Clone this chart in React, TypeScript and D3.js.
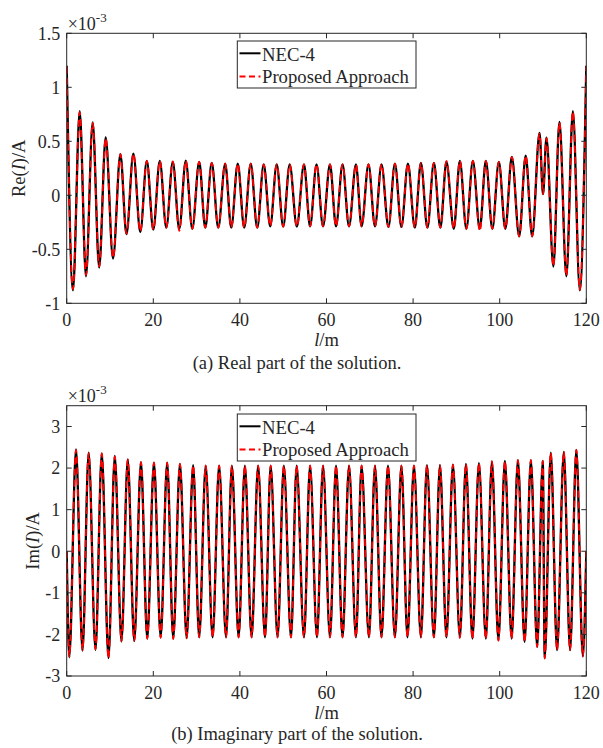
import * as d3 from "d3";

// current along the wire, units of 1e-3 A, extrema
const realPos = [
  0, 1.45, 3.0, 4.45, 6.0, 7.5, 9.0, 10.7, 12.4, 13.8,
  15.4, 17.0, 18.5, 20.0, 21.5, 23.0, 24.5, 26.0, 27.5, 29.0,
  30.6, 32.0, 33.5, 35.0, 36.6, 38.0, 39.5, 41.0, 42.5, 44.0,
  45.5, 47.0, 48.5, 50.0, 51.5, 53.15, 54.8, 56.2, 57.7, 59.2,
  60.8, 62.2, 63.7, 65.2, 66.8, 68.1, 69.7, 71.2, 72.7, 74.3,
  75.8, 77.3, 78.8, 80.4, 81.8, 83.3, 84.8, 86.3, 87.7, 89.4,
  90.8, 92.3, 93.8, 95.4, 96.8, 98.3, 99.8, 101.3, 102.8, 104.5,
  106.0, 107.5, 109.2, 110.0, 110.8, 112.4, 113.8, 115.4, 116.9, 118.5,
  120,
];
const realNec = [
  1.2, -0.88, 0.78, -0.75, 0.675, -0.67, 0.535, -0.585, 0.38, -0.36,
  0.385, -0.34, 0.318, -0.318, 0.318, -0.3, 0.31, -0.31, 0.32, -0.31,
  0.31, -0.3, 0.3, -0.3, 0.293, -0.3, 0.293, -0.3, 0.293, -0.3,
  0.287, -0.287, 0.287, -0.29, 0.287, -0.29, 0.287, -0.287, 0.287, -0.287,
  0.287, -0.287, 0.287, -0.287, 0.287, -0.287, 0.287, -0.287, 0.287, -0.293,
  0.293, -0.293, 0.293, -0.3, 0.3, -0.3, 0.3, -0.3, 0.309, -0.31,
  0.318, -0.31, 0.318, -0.31, 0.318, -0.31, 0.31, -0.31, 0.355, -0.38,
  0.367, -0.38, 0.577, 0.01, 0.534, -0.66, 0.68, -0.75, 0.78, -0.88,
  1.2,
];
const realProp = [
  1.19, -0.87, 0.77, -0.74, 0.67, -0.66, 0.53, -0.58, 0.38, -0.355,
  0.385, -0.335, 0.318, -0.318, 0.318, -0.3, 0.315, -0.33, 0.32, -0.31,
  0.31, -0.3, 0.3, -0.3, 0.293, -0.3, 0.293, -0.3, 0.293, -0.3,
  0.287, -0.287, 0.287, -0.29, 0.287, -0.29, 0.287, -0.287, 0.287, -0.287,
  0.287, -0.287, 0.287, -0.287, 0.287, -0.287, 0.287, -0.287, 0.287, -0.293,
  0.293, -0.293, 0.293, -0.3, 0.3, -0.3, 0.3, -0.3, 0.318, -0.31,
  0.318, -0.31, 0.318, -0.33, 0.318, -0.31, 0.31, -0.31, 0.355, -0.38,
  0.367, -0.38, 0.57, 0.01, 0.53, -0.655, 0.675, -0.745, 0.775, -0.875,
  1.19,
];

const imagPos = [
  0, 0.6, 2.15, 3.65, 5.07, 6.65, 8.1, 9.65, 11.1, 12.65,
  14.1, 15.6, 17.15, 18.6, 20.15, 21.7, 23.2, 24.6, 26.15, 27.7,
  29.2, 30.6, 32.1, 33.7, 35.2, 36.8, 38.15, 39.7, 41.15, 42.7,
  44.2, 45.8, 47.1, 48.7, 50.15, 51.8, 53.1, 54.8, 56.2, 57.8,
  59.2, 60.8, 62.2, 63.7, 65.2, 66.8, 68.1, 69.8, 71.2, 72.7,
  74.2, 75.8, 77.3, 78.7, 80.2, 81.8, 83.2, 84.8, 86.2, 87.7,
  89.2, 90.8, 92.2, 93.7, 95.2, 96.8, 98.2, 99.7, 101.2, 102.75,
  104.2, 105.75, 107.2, 108.65, 109.95, 110.4, 111.8, 113.25, 114.8, 116.25,
  117.7, 119.2, 120,
];
const imagNec = [
  0, -2.55, 2.45, -2.39, 2.37, -2.37, 2.355, -2.57, 2.29, -2.17,
  2.21, -2.16, 2.14, -2.1, 2.13, -2.07, 2.13, -2.1, 2.1, -2.09,
  2.07, -2.07, 2.06, -2.07, 2.06, -2.07, 2.06, -2.07, 2.06, -2.07,
  2.06, -2.07, 2.06, -2.07, 2.06, -2.07, 2.06, -2.07, 2.06, -2.07,
  2.06, -2.07, 2.06, -2.07, 2.06, -2.07, 2.06, -2.07, 2.06, -2.07,
  2.06, -2.07, 2.06, -2.07, 2.06, -2.07, 2.07, -2.07, 2.07, -2.07,
  2.08, -2.07, 2.1, -2.1, 2.12, -2.1, 2.16, -2.14, 2.17, -2.1,
  2.19, -2.18, 2.19, -2.3, 2.17, -2.57, 2.37, -2.38, 2.39, -2.38,
  2.44, -2.53, 0,
];
const imagProp = [
  0, -2.53, 2.44, -2.38, 2.36, -2.36, 2.35, -2.58, 2.28, -2.16,
  2.2, -2.15, 2.14, -2.1, 2.13, -2.08, 2.13, -2.11, 2.1, -2.09,
  2.07, -2.07, 2.06, -2.07, 2.06, -2.07, 2.06, -2.07, 2.06, -2.07,
  2.06, -2.07, 2.06, -2.07, 2.06, -2.07, 2.06, -2.07, 2.06, -2.07,
  2.06, -2.07, 2.06, -2.07, 2.06, -2.07, 2.06, -2.07, 2.06, -2.07,
  2.06, -2.07, 2.06, -2.07, 2.06, -2.07, 2.07, -2.07, 2.07, -2.07,
  2.08, -2.08, 2.1, -2.11, 2.12, -2.11, 2.16, -2.15, 2.17, -2.11,
  2.19, -2.19, 2.19, -2.3, 2.17, -2.58, 2.37, -2.38, 2.39, -2.38,
  2.44, -2.52, 0,
];

const xTicks = [0, 20, 40, 60, 80, 100, 120];
const realTicks = [-1, -0.5, 0, 0.5, 1, 1.5];
const imagTicks = [-3, -2, -1, 0, 1, 2, 3];
const seriesNames = ["NEC-4", "Proposed Approach"];

const FONT = "'Liberation Serif', 'Times New Roman', serif";
const AX = "#262626";
const L = 66.7;
const R = 586.3;

function Panel(props: any) {
  const { id, top, bottom, yDomain, yTicks, pos, nec, prop, part, labelX, legendTop, caption, xLabelY, captionY } = props;
  const x = d3.scaleLinear().domain([0, 120]).range([L, R]);
  const y = d3.scaleLinear().domain(yDomain).range([bottom, top]);
  const line = d3
    .line<number>()
    .x((d, i) => x(pos[i]))
    .y((d) => y(d))
    .curve(d3.curveMonotoneX);

  return (
    <g fontFamily={FONT} fill="#262626">
      <defs>
        <clipPath id={id}>
          <rect x={L} y={top} width={R - L} height={bottom - top} />
        </clipPath>
      </defs>
      <rect x={L} y={top} width={R - L} height={bottom - top} fill="white" />
      <g clipPath={`url(#${id})`}>
        <path d={line(nec) || ""} fill="none" stroke="black" strokeWidth={2.3} strokeLinejoin="round" />
        <path d={line(prop) || ""} fill="none" stroke="#ff0000" strokeWidth={1.8} strokeDasharray="7,4" />
      </g>
      {/* box + ticks */}
      <rect x={L} y={top} width={R - L} height={bottom - top} fill="none" stroke={AX} strokeWidth={1} />
      {xTicks.map((t) => (
        <g key={"x" + t}>
          <line x1={x(t)} x2={x(t)} y1={bottom} y2={bottom - 5} stroke={AX} />
          <line x1={x(t)} x2={x(t)} y1={top} y2={top + 5} stroke={AX} />
          <text x={x(t)} y={bottom + 22.5} textAnchor="middle" fontSize={18}>
            {t}
          </text>
        </g>
      ))}
      {yTicks.map((t: number) => (
        <g key={"y" + t}>
          <line x1={L} x2={L + 5} y1={y(t)} y2={y(t)} stroke={AX} />
          <line x1={R} x2={R - 5} y1={y(t)} y2={y(t)} stroke={AX} />
          <text x={L - 6.5} y={y(t)} dy="0.35em" textAnchor="end" fontSize={18}>
            {String(t)}
          </text>
        </g>
      ))}
      <text x={L + 1} y={top - 3.5} fontSize={18}>
        ×10
        <tspan dy={-8} fontSize={13}>-3</tspan>
      </text>
      <text transform={`translate(${labelX},${(top + bottom) / 2}) rotate(-90)`} textAnchor="middle" fontSize={18.5}>
        {part}(<tspan fontStyle="italic">I</tspan>)/A
      </text>
      <text x={(L + R) / 2} y={xLabelY} textAnchor="middle" fontSize={18.5}>
        <tspan fontStyle="italic">l</tspan>/m
      </text>
      <text x={297} y={captionY} textAnchor="middle" fontSize={18.5}>
        {caption}
      </text>
      {/* legend */}
      <rect x={237.3} y={legendTop} width={178.7} height={47} fill="white" stroke={AX} strokeWidth={1} />
      <line x1={239.5} x2={260.5} y1={legendTop + 12.3} y2={legendTop + 12.3} stroke="black" strokeWidth={2} />
      <text x={262} y={legendTop + 20.3} fontSize={18.7}>
        {seriesNames[0]}
      </text>
      <line x1={239.5} x2={260.5} y1={legendTop + 35.5} y2={legendTop + 35.5} stroke="#ff0000" strokeWidth={2} strokeDasharray="6,3.5" />
      <text x={262} y={legendTop + 42} fontSize={18.7}>
        {seriesNames[1]}
      </text>
    </g>
  );
}

export default function App() {
  return (
    <svg width={603} height={748} style={{ position: "absolute", left: 0, top: 0, background: "white" }}>
      <rect width={603} height={748} fill="white" />
      <Panel
        id="clipRe"
        top={33.3}
        bottom={303.3}
        yDomain={[-1, 1.5]}
        yTicks={realTicks}
        pos={realPos}
        nec={realNec}
        prop={realProp}
        part="Re"
        labelX={24.5}
        legendTop={41}
        caption="(a) Real part of the solution."
        xLabelY={346}
        captionY={368.5}
      />
      <Panel
        id="clipIm"
        top={405.7}
        bottom={676}
        yDomain={[-3, 3.5]}
        yTicks={imagTicks}
        pos={imagPos}
        nec={imagNec}
        prop={imagProp}
        part="Im"
        labelX={39}
        legendTop={414}
        caption="(b) Imaginary part of the solution."
        xLabelY={719}
        captionY={740}
      />
    </svg>
  );
}
